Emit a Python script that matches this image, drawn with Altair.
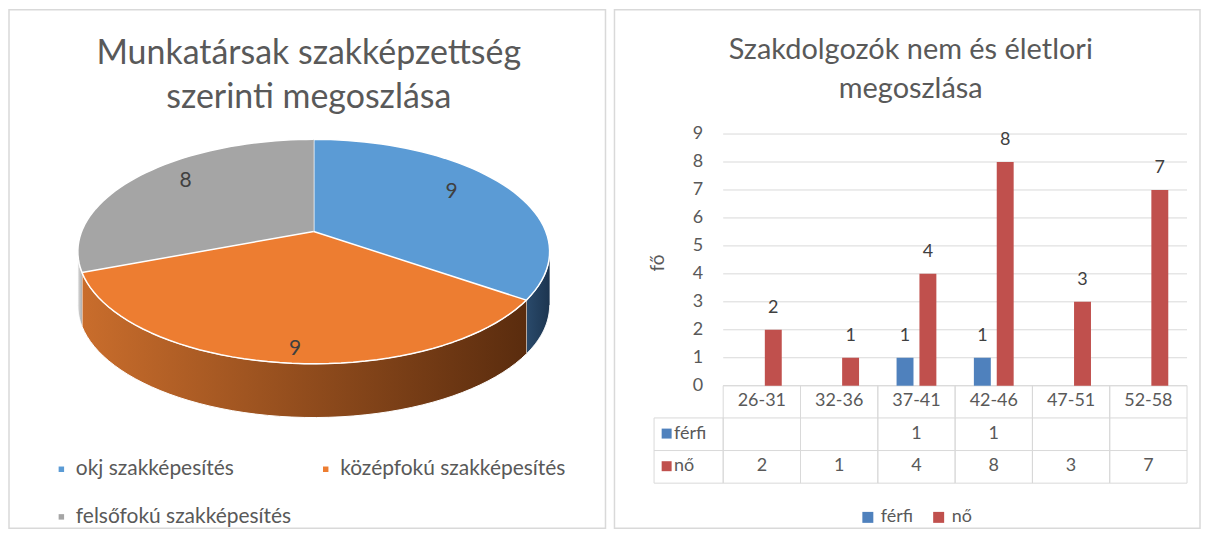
import altair as alt
import pandas as pd

# ---------------- data ----------------
pie_title = ["Munkatársak szakképzettség", "szerinti megoszlása"]
pie_labels = ["okj szakképesítés", "középfokú szakképesítés", "felsőfokú szakképesítés"]
pie_values = [9, 9, 8]

bar_title = ["Szakdolgozók nem és életlori", "megoszlása"]
age_groups = ["26-31", "32-36", "37-41", "42-46", "47-51", "52-58"]
series = ["férfi", "nő"]
ferfi = [None, None, 1, 1, None, None]
no = [2, 1, 4, 8, 3, 7]
y_ticks = [0, 1, 2, 3, 4, 5, 6, 7, 8, 9]
y_title = "fő"

# ---------------- styles ----------------
FONT = "Lato"
TXT = "#595959"
LAB = "#404040"
GRID = "#d9d9d9"
pie_colors = ["#5b9bd5", "#ed7d31", "#a5a5a5"]
series_colors = ["#4f81bd", "#c0504d"]

W_L, W_R, H = 598, 587, 520

# ---------------- left panel: 3D-look pie ----------------
pie_df = pd.DataFrame({"label": pie_labels, "value": pie_values,
                       "idx": list(range(len(pie_values)))})

CX, CY, R = 305.5, 242.5, 236.5
SQ, T, DEPTH = 0.4757, 0.179, 0.228   # tilt squash, perspective shift, side depth
KS = (1 - T * T) ** 0.5
xs_pie = alt.Scale(domain=[-1, 1], range=[CX - R, CX + R], nice=False, zero=False)
ys_pie = alt.Scale(domain=[-1, 1], range=[CY + R, CY - R], nice=False, zero=False)

pie_base = alt.Chart(pie_df).transform_window(
    cum="sum(value)", sort=[alt.SortField("idx")]
).transform_joinaggregate(total="sum(value)").transform_calculate(
    a0="2*PI*(datum.cum - datum.value)/datum.total",
    a1="2*PI*datum.cum/datum.total",
)

RIM_X = f"sin(datum.ang) * {KS} / (1 + {T} * cos(datum.ang))"
RIM_Y = f"{SQ} * (cos(datum.ang) + {T}) / (1 + {T} * cos(datum.ang))"

top = pie_base.transform_calculate(k="sequence(0, 52)").transform_flatten(["k"]).transform_calculate(
    ang="datum.a0 + (datum.a1 - datum.a0) * (datum.k - 1) / 50"
).transform_calculate(
    px=f"datum.k == 0 ? 0 : {RIM_X}",
    py=f"datum.k == 0 ? {SQ * T} : {RIM_Y}",
).mark_line(filled=True, stroke="white", strokeWidth=1.5, strokeJoin="round").encode(
    x=alt.X("px:Q", scale=xs_pie, axis=None),
    y=alt.Y("py:Q", scale=ys_pie, axis=None),
    color=alt.Color("label:N", scale=alt.Scale(domain=pie_labels, range=pie_colors),
                    legend=alt.Legend(orient="none", legendX=42, legendY=450, columns=2,
                                      values=[pie_labels[0], pie_labels[2], pie_labels[1]],
                                      title=None, symbolType="square", symbolSize=30,
                                      symbolStrokeWidth=0, labelFont=FONT, labelFontSize=21,
                                      labelColor=TXT, labelOffset=4, columnPadding=24,
                                      rowPadding=26, padding=0, labelLimit=400)),
    order="k:Q",
)

side_base = pie_base.transform_calculate(
    s=f"max(datum.a0, acos(-{T}))", e=f"min(datum.a1, 2*PI - acos(-{T}))"
).transform_filter("datum.s < datum.e").transform_calculate(
    k="sequence(0, 102)"
).transform_flatten(["k"]).transform_calculate(
    ang="datum.k <= 50 ? datum.s + (datum.e - datum.s) * datum.k / 50 : datum.e - (datum.e - datum.s) * (datum.k - 51) / 50"
).transform_calculate(
    px=RIM_X,
    py=f"{RIM_Y} - (datum.k <= 50 ? 0 : {DEPTH})",
)


def grad(c1, c2):
    return alt.Gradient(gradient="linear", x1=0, x2=1, y1=0, y2=0,
                        stops=[alt.GradientStop(color=c1, offset=0),
                               alt.GradientStop(color=c2, offset=1)])


side_fills = [grad("#2a4a6b", "#1c3550"), grad("#c96d2c", "#5a2c0e"), grad("#d8d8d8", "#b0b0b0")]
sides = [
    side_base.transform_filter(f"datum.idx == {i}").mark_line(
        filled=True, fill=side_fills[i], stroke="white", strokeWidth=1, strokeJoin="round"
    ).encode(
        x=alt.X("px:Q", scale=xs_pie, axis=None),
        y=alt.Y("py:Q", scale=ys_pie, axis=None),
        order="k:Q",
    )
    for i in range(len(pie_values))
]

pie_lab = pie_base.transform_calculate(am="(datum.a0 + datum.a1) / 2").transform_calculate(
    lx="0.66 * sin(datum.am)",
    ly=f"{SQ} * 1.45 * 0.66 * cos(datum.am) + 0.04",
).mark_text(font=FONT, fontSize=21, color=LAB).encode(
    x=alt.X("lx:Q", scale=xs_pie, axis=None),
    y=alt.Y("ly:Q", scale=ys_pie, axis=None),
    text="value:Q",
)


def free_text(txt, x, y, size, color=TXT, **kw):
    return alt.Chart(pd.DataFrame({"t": [txt]})).mark_text(
        font=FONT, fontSize=size, color=color, **kw
    ).encode(x=alt.value(x), y=alt.value(y), text="t:N")


left = alt.layer(
    *sides, top, pie_lab,
    free_text(pie_title[0], 300.5, 44, 34),
    free_text(pie_title[1], 300.5, 89, 34),
).properties(width=W_L, height=H)

# ---------------- right panel: grouped bars + data table ----------------
rows = []
for i, a in enumerate(age_groups):
    rows.append({"age": a, "series": series[0], "value": ferfi[i]})
    rows.append({"age": a, "series": series[1], "value": no[i]})
bar_df = pd.DataFrame(rows)

X0, X1 = 109, 574
Y0, Y9 = 377, 124.7
ROW_H, ROW_F, ROW_N = 392.7, 425, 457.7
T_TOP, T_R1, T_R2, T_BOT = 377, 409.3, 442, 474.7
T_LEFT = 39.7

xs_bar = alt.Scale(domain=age_groups, range=[X0, X1], paddingInner=0, paddingOuter=0)
ys_bar = alt.Scale(domain=[0, 9], range=[Y0, Y9], nice=False, zero=True)
off_scale = alt.Scale(domain=series, paddingInner=0.26, paddingOuter=0.82)

xenc = alt.X("age:N", scale=xs_bar, axis=None)
xoff = alt.XOffset("series:N", scale=off_scale)

ticks_df = pd.DataFrame({"v": y_ticks})
grid = alt.Chart(ticks_df).mark_rule(color=GRID, strokeWidth=1).encode(
    y=alt.Y("v:Q", scale=ys_bar, axis=None), x=alt.value(X0), x2=alt.value(X1)
)
tick_lab = alt.Chart(ticks_df).mark_text(font=FONT, fontSize=18, color=TXT, align="right",
                                          baseline="middle").encode(
    y=alt.Y("v:Q", scale=ys_bar, axis=None), x=alt.value(89), text="v:Q"
)

bars = alt.Chart(bar_df).transform_filter("isValid(datum.value)").mark_bar().encode(
    x=xenc, xOffset=xoff,
    y=alt.Y("value:Q", scale=ys_bar, axis=None),
    color=alt.Color("series:N", scale=alt.Scale(domain=series, range=series_colors),
                    legend=alt.Legend(orient="none", legendX=245, legendY=500,
                                      direction="horizontal", title=None,
                                      symbolType="square", symbolSize=121,
                                      symbolStrokeWidth=0, labelFont=FONT,
                                      labelFontSize=18, labelColor=TXT, labelOffset=4,
                                      columnPadding=16, padding=0)),
)
bar_lab = alt.Chart(bar_df).transform_filter("isValid(datum.value)").mark_text(
    font=FONT, fontSize=18, color=LAB, dy=-22
).encode(x=xenc, xOffset=xoff, y=alt.Y("value:Q", scale=ys_bar, axis=None), text="value:Q")

age_df = pd.DataFrame({"age": age_groups})
cells = alt.Chart(age_df).mark_rect(fill="transparent", stroke=GRID, strokeWidth=1).encode(
    x=xenc, y=alt.value(T_TOP), y2=alt.value(T_BOT)
)
head_txt = alt.Chart(age_df).mark_text(font=FONT, fontSize=18, color=TXT).encode(
    x=xenc, y=alt.value(ROW_H), text="age:N"
)

one = pd.DataFrame({"a": [0]})
left_col = alt.Chart(one).mark_rect(fill="transparent", stroke=GRID, strokeWidth=1).encode(
    x=alt.value(T_LEFT), x2=alt.value(X0), y=alt.value(T_R1), y2=alt.value(T_BOT)
)
rule1 = alt.Chart(one).mark_rule(color=GRID, strokeWidth=1).encode(
    x=alt.value(X0), x2=alt.value(X1), y=alt.value(T_R1))
rule2 = alt.Chart(one).mark_rule(color=GRID, strokeWidth=1).encode(
    x=alt.value(T_LEFT), x2=alt.value(X1), y=alt.value(T_R2))


def row_text(name, y):
    return alt.Chart(bar_df).transform_filter(
        f"datum.series == '{name}' && isValid(datum.value)"
    ).mark_text(font=FONT, fontSize=18, color=TXT).encode(
        x=xenc, y=alt.value(y), text="value:Q")


def row_key(i, y):
    sq = alt.Chart(one).mark_square(size=100, color=series_colors[i], opacity=1).encode(
        x=alt.value(52.3), y=alt.value(y))
    return sq + free_text(series[i], 59.7, y, 18, align="left")


right = alt.layer(
    grid, cells, left_col, rule1, rule2, bars, bar_lab, tick_lab, head_txt,
    row_text(series[0], ROW_F), row_text(series[1], ROW_N),
    row_key(0, ROW_F), row_key(1, ROW_N),
    free_text(y_title, 44, 254, 19, angle=270),
    free_text(bar_title[0], 297, 40, 29),
    free_text(bar_title[1], 297, 80, 29),
).properties(width=W_R, height=H)

chart = alt.hconcat(left, right, spacing=7).resolve_scale(
    color="independent"
).resolve_legend(color="independent").properties(
    padding=0, background="white"
).configure_view(stroke=GRID, strokeWidth=1.5)

chart.save("out.html", embed_options={"renderer": "svg", "actions": False})
